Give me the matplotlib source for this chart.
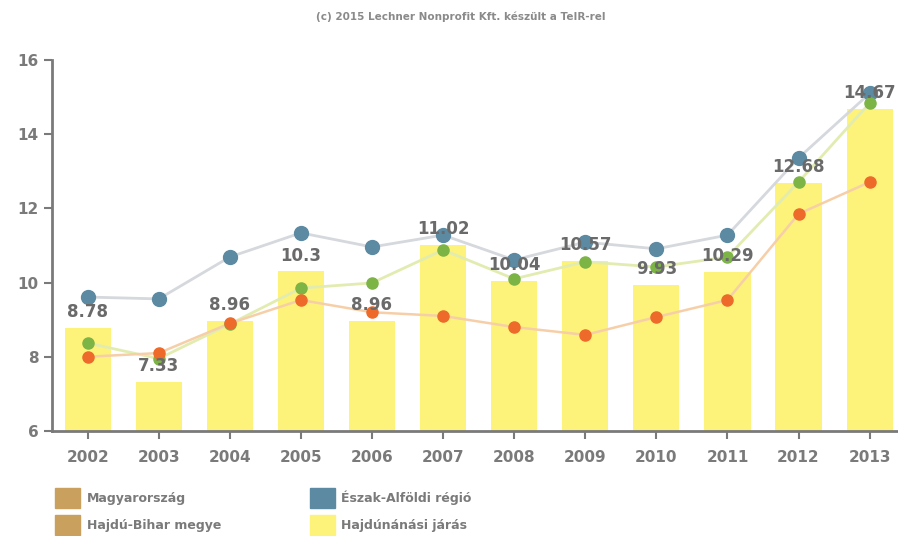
import matplotlib
matplotlib.use("Agg")
import matplotlib.pyplot as plt
from matplotlib.patches import Patch

years = ["2002", "2003", "2004", "2005", "2006", "2007",
         "2008", "2009", "2010", "2011", "2012", "2013"]

# Hajdúnánási járás (bars)
jaras = [8.78, 7.33, 8.96, 10.3, 8.96, 11.02, 10.04, 10.57, 9.93, 10.29, 12.68, 14.67]
jaras_labels = ["8.78", "7.33", "8.96", "10.3", "8.96", "11.02",
                "10.04", "10.57", "9.93", "10.29", "12.68", "14.67"]
# Észak-Alföldi régió
regio = [9.61, 9.56, 10.69, 11.34, 10.96, 11.28, 10.61, 11.09, 10.91, 11.28, 13.36, 15.1]
# Hajdú-Bihar megye
megye = [8.37, 7.95, 8.88, 9.85, 9.99, 10.88, 10.1, 10.56, 10.42, 10.69, 12.71, 14.84]
# Magyarország
orszag = [8.0, 8.1, 8.9, 9.53, 9.2, 9.1, 8.8, 8.59, 9.07, 9.53, 11.85, 12.71]

GRAY = "#7a7a7a"

fig = plt.figure(figsize=(8.98, 5.36), dpi=100)
ax = fig.add_axes([0.058, 0.196, 0.95, 0.692])

x = list(range(len(years)))
ax.bar(x, jaras, width=0.65, bottom=0, color="#fdf27a", zorder=1)

ax.plot(x, regio, color="#d5d8dc", lw=2, zorder=2)
ax.plot(x, megye, color="#e2ecb0", lw=2, zorder=2)
ax.plot(x, orszag, color="#f6cfa8", lw=1.8, zorder=2)
ax.plot(x, regio, "o", color="#5b8aa2", ms=10, zorder=3)
ax.plot(x, megye, "o", color="#7cb446", ms=8, zorder=4)
ax.plot(x, orszag, "o", color="#ee6a2a", ms=8, zorder=4)

for xi, v, lab in zip(x, jaras, jaras_labels):
    ax.annotate(lab, (xi, v), xytext=(0, 5), textcoords="offset points",
                ha="center", va="bottom", fontsize=12, fontweight="bold",
                color="#6a6a6a", zorder=5)

ax.set_ylim(6, 16)
ax.set_xlim(-0.5, 11.5)
ax.set_yticks([6, 8, 10, 12, 14, 16])
ax.set_xticks(x)
ax.set_xticklabels(years)
for s in ("top", "right"):
    ax.spines[s].set_visible(False)
for s in ("left", "bottom"):
    ax.spines[s].set_color(GRAY)
    ax.spines[s].set_linewidth(2)
ax.tick_params(axis="both", colors=GRAY, labelcolor=GRAY, width=1.5, length=6)
ax.tick_params(axis="x", pad=8)
for t in ax.get_xticklabels() + ax.get_yticklabels():
    t.set_fontsize(11)
    t.set_fontweight("bold")

fig.text(0.513, 0.968, "(c) 2015 Lechner Nonprofit Kft. készült a TeIR-rel",
         ha="center", va="center", fontsize=7.5, fontweight="bold", color="#8a8a8a")

handles = [
    Patch(color="#c9a05e", label="Magyarország"),
    Patch(color="#c9a05e", label="Hajdú-Bihar megye"),
    Patch(color="#5b8aa2", label="Észak-Alföldi régió"),
    Patch(color="#fdf27a", label="Hajdúnánási járás"),
]
leg = fig.legend(handles=handles, ncol=2, loc="upper left",
                 bbox_to_anchor=(0.052, 0.106), frameon=False,
                 handlelength=2.0, handleheight=2.1, handletextpad=0.5,
                 columnspacing=7.1, labelspacing=0.55, fontsize=9,
                 borderpad=0.2)
for t in leg.get_texts():
    t.set_color("#7a7a7a")
    t.set_fontweight("bold")

fig.savefig("out.png", dpi=100)
